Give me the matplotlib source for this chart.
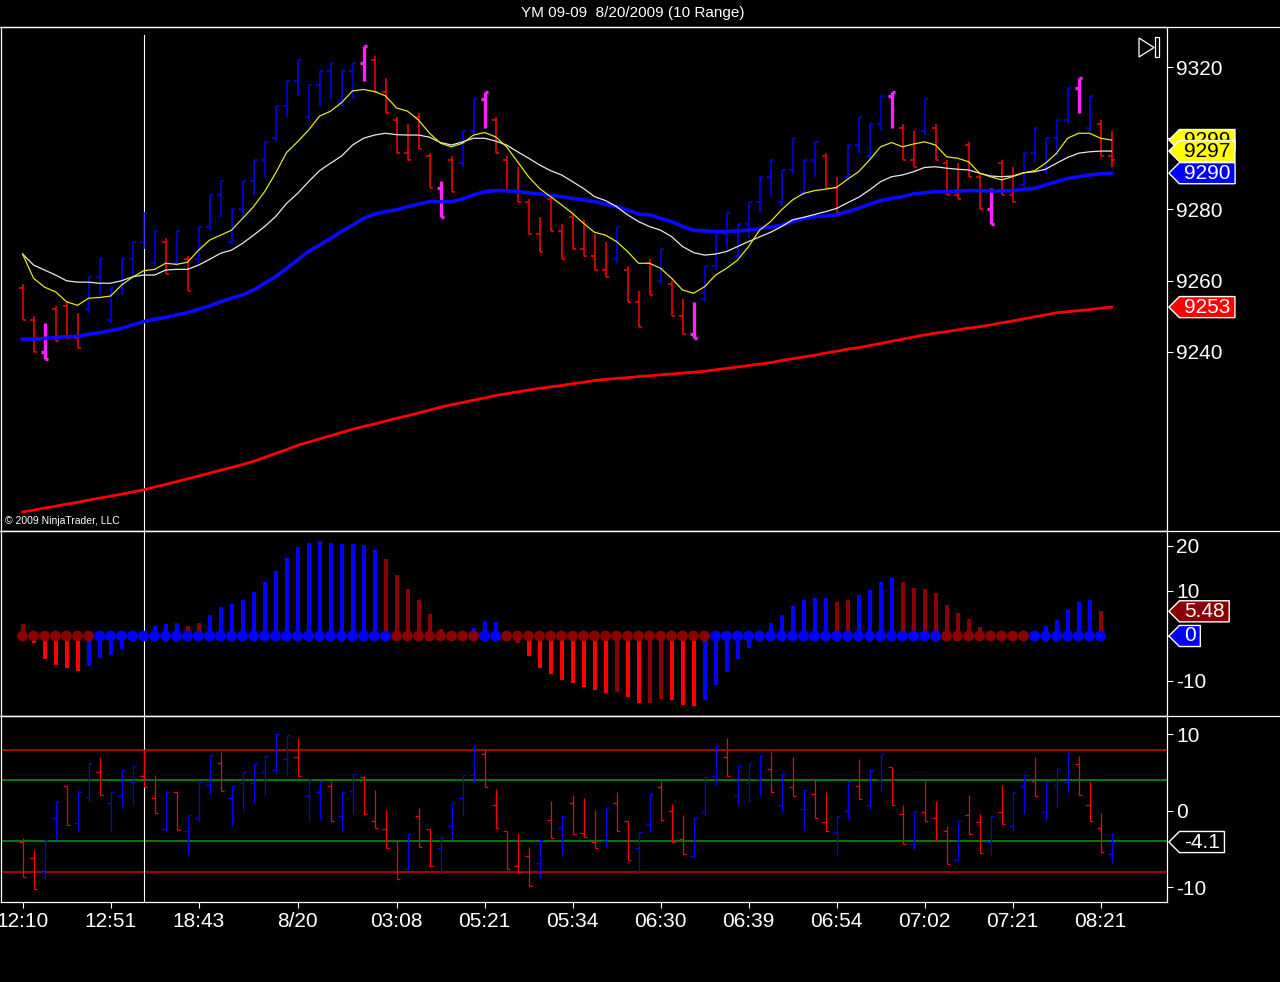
import numpy as np
import matplotlib.pyplot as plt
import matplotlib.transforms as mtransforms
from matplotlib.lines import Line2D
from matplotlib.patches import Polygon, Rectangle
from matplotlib.path import Path

plt.rcParams['font.family'] = ['Liberation Sans', 'DejaVu Sans']
plt.rcParams['axes.unicode_minus'] = False

# ---- price panel: 10 point range bars ----
top_open = [9258, 9249, 9240, 9252, 9253, 9244, 9252, 9261, 9249, 9258,
            9266, 9271, 9265, 9271, 9265, 9266, 9266, 9275, 9284, 9271,
            9280, 9288, 9294, 9300, 9309, 9316, 9306, 9315, 9319, 9310,
            9319, 9321, 9322, 9313, 9305, 9296, 9306, 9295, 9286, 9294,
            9293, 9302, 9311, 9305, 9294, 9285, 9282, 9273, 9283, 9274,
            9278, 9269, 9267, 9263, 9266, 9263, 9254, 9265, 9260, 9259,
            9250, 9245, 9255, 9264, 9273, 9267, 9276, 9282, 9289, 9282,
            9291, 9285, 9294, 9295, 9286, 9289, 9298, 9295, 9304, 9312,
            9303, 9294, 9302, 9303, 9293, 9284, 9298, 9289, 9280, 9293,
            9284, 9287, 9296, 9291, 9300, 9305, 9314, 9303, 9304, 9295]
top_high = [9259, 9250, 9248, 9253, 9254, 9251, 9261, 9266, 9258, 9266,
            9271, 9279, 9274, 9272, 9274, 9267, 9275, 9284, 9288, 9280,
            9288, 9294, 9299, 9309, 9316, 9322, 9315, 9319, 9321, 9319,
            9321, 9326, 9323, 9317, 9306, 9304, 9307, 9296, 9288, 9295,
            9302, 9311, 9313, 9306, 9295, 9292, 9283, 9278, 9284, 9276,
            9279, 9277, 9273, 9271, 9275, 9264, 9257, 9266, 9269, 9260,
            9255, 9254, 9264, 9273, 9279, 9276, 9282, 9289, 9294, 9291,
            9300, 9294, 9299, 9296, 9289, 9298, 9306, 9304, 9312, 9313,
            9304, 9302, 9311, 9304, 9294, 9293, 9299, 9290, 9286, 9294,
            9292, 9296, 9303, 9300, 9305, 9314, 9317, 9312, 9305, 9302]
top_low = [9249, 9240, 9238, 9243, 9244, 9241, 9251, 9256, 9248, 9256,
           9261, 9269, 9264, 9262, 9264, 9257, 9265, 9274, 9278, 9270,
           9278, 9284, 9289, 9299, 9306, 9312, 9305, 9309, 9311, 9309,
           9311, 9316, 9313, 9307, 9296, 9294, 9297, 9286, 9278, 9285,
           9292, 9301, 9303, 9296, 9285, 9282, 9273, 9268, 9274, 9266,
           9269, 9267, 9263, 9261, 9265, 9254, 9247, 9256, 9259, 9250,
           9245, 9244, 9254, 9263, 9269, 9266, 9272, 9279, 9284, 9281,
           9290, 9284, 9289, 9286, 9279, 9288, 9296, 9294, 9302, 9303,
           9294, 9292, 9301, 9294, 9284, 9283, 9289, 9280, 9276, 9284,
           9282, 9286, 9293, 9290, 9295, 9304, 9307, 9302, 9295, 9292]
top_close = [9249, 9240, 9238, 9243, 9244, 9241, 9261, 9266, 9258, 9266,
             9271, 9279, 9274, 9262, 9274, 9257, 9275, 9284, 9288, 9280,
             9288, 9294, 9299, 9309, 9316, 9322, 9315, 9319, 9321, 9319,
             9321, 9326, 9313, 9307, 9296, 9294, 9297, 9286, 9278, 9285,
             9302, 9311, 9313, 9296, 9285, 9282, 9273, 9268, 9274, 9266,
             9269, 9267, 9263, 9261, 9275, 9254, 9247, 9256, 9269, 9250,
             9245, 9244, 9264, 9273, 9279, 9276, 9282, 9289, 9294, 9291,
             9300, 9294, 9299, 9286, 9279, 9298, 9306, 9304, 9312, 9313,
             9294, 9292, 9311, 9294, 9284, 9283, 9289, 9280, 9276, 9284,
             9282, 9296, 9303, 9300, 9305, 9314, 9317, 9312, 9295, 9294]
# bars painted magenta by the signal
signal_bars = [2, 31, 38, 42, 61, 79, 88, 96]

# moving averages on the price panel
ma_yellow = [9267.5, 9260.7, 9258.2, 9256.9, 9254.1, 9253.1, 9255.1, 9255.3, 9255.7, 9258.8,
             9261.0, 9262.8, 9263.2, 9264.9, 9264.6, 9265.2, 9268.6, 9271.4, 9272.8, 9274.2,
             9277.5, 9280.8, 9285.0, 9290.2, 9296.0, 9299.0, 9302.3, 9306.2, 9307.6, 9310.0,
             9313.3, 9313.7, 9313.1, 9311.9, 9308.5, 9307.6, 9305.1, 9301.4, 9298.6, 9297.6,
             9298.6, 9300.9, 9301.6, 9300.4, 9297.6, 9293.4, 9289.2, 9285.9, 9283.6, 9281.3,
             9278.9, 9276.1, 9273.6, 9272.8, 9271.0, 9268.2, 9264.9, 9264.9, 9263.5, 9260.7,
             9257.4, 9256.5, 9258.3, 9261.6, 9263.5, 9265.8, 9269.6, 9274.2, 9276.6, 9279.9,
             9282.7, 9284.5, 9285.3, 9285.7, 9286.2, 9288.5, 9290.6, 9293.9, 9297.6, 9298.8,
             9297.6, 9298.4, 9299.0, 9298.1, 9294.8, 9294.4, 9293.4, 9290.2, 9289.2, 9288.3,
             9289.2, 9290.3, 9290.9, 9293.0, 9295.8, 9300.0, 9301.4, 9301.4, 9300.0, 9299.5]
ma_white = [9267.5, 9264.4, 9263.0, 9261.6, 9260.0, 9259.6, 9259.6, 9259.3, 9259.3, 9260.0,
            9261.1, 9261.6, 9261.6, 9263.0, 9263.2, 9263.2, 9264.4, 9266.0, 9267.7, 9268.6,
            9270.5, 9272.8, 9275.2, 9278.0, 9281.7, 9284.5, 9287.8, 9290.9, 9293.0, 9295.0,
            9298.1, 9300.0, 9300.9, 9301.4, 9301.0, 9300.9, 9300.9, 9300.3, 9298.8, 9298.1,
            9299.0, 9300.0, 9300.0, 9299.2, 9298.1, 9296.2, 9294.4, 9292.5, 9290.9, 9289.7,
            9287.8, 9285.9, 9283.6, 9282.5, 9280.8, 9278.5, 9276.6, 9275.2, 9274.2, 9272.4,
            9269.6, 9267.9, 9267.2, 9267.5, 9268.2, 9269.6, 9271.0, 9272.3, 9273.6, 9275.2,
            9277.1, 9277.8, 9278.6, 9279.4, 9280.3, 9281.9, 9283.4, 9285.5, 9287.8, 9289.2,
            9289.7, 9290.6, 9291.8, 9292.0, 9291.6, 9291.3, 9291.1, 9290.2, 9289.4, 9289.2,
            9289.4, 9290.3, 9290.6, 9291.3, 9293.0, 9294.6, 9295.8, 9296.2, 9296.4, 9296.4]
ma_blue = [9243.6, 9243.6, 9243.8, 9244.1, 9244.3, 9244.3, 9245.0, 9245.4, 9246.0, 9246.6,
           9247.6, 9248.5, 9249.2, 9249.7, 9250.4, 9251.0, 9252.0, 9252.9, 9254.1, 9255.1,
           9256.0, 9257.4, 9259.3, 9261.1, 9263.5, 9265.8, 9268.2, 9270.0, 9271.9, 9273.8,
           9275.6, 9277.5, 9278.7, 9279.4, 9279.9, 9280.8, 9281.5, 9282.2, 9282.2, 9282.2,
           9282.9, 9284.1, 9285.0, 9285.3, 9285.3, 9285.0, 9284.7, 9284.4, 9283.9, 9283.6,
           9283.1, 9282.7, 9282.2, 9281.5, 9280.8, 9279.9, 9278.7, 9278.5, 9277.5, 9276.6,
           9275.2, 9274.2, 9274.0, 9273.8, 9273.8, 9274.0, 9274.2, 9274.7, 9275.1, 9275.6,
           9276.6, 9277.5, 9278.0, 9278.2, 9278.5, 9279.4, 9280.3, 9281.5, 9282.5, 9283.1,
           9283.6, 9284.4, 9284.7, 9285.0, 9285.0, 9285.2, 9285.3, 9285.3, 9285.2, 9285.2,
           9285.3, 9285.7, 9285.9, 9286.9, 9287.8, 9288.7, 9289.2, 9289.7, 9290.0, 9290.2]
ma_red = [9195.1, 9195.6, 9196.2, 9196.7, 9197.3, 9197.8, 9198.4, 9199.0, 9199.5, 9200.1,
          9200.7, 9201.3, 9202.1, 9202.8, 9203.6, 9204.4, 9205.2, 9206.0, 9206.8, 9207.6,
          9208.4, 9209.3, 9210.4, 9211.5, 9212.6, 9213.8, 9214.7, 9215.6, 9216.5, 9217.4,
          9218.3, 9219.1, 9219.8, 9220.6, 9221.4, 9222.1, 9222.9, 9223.7, 9224.5, 9225.2,
          9225.8, 9226.5, 9227.1, 9227.8, 9228.3, 9228.8, 9229.3, 9229.8, 9230.2, 9230.6,
          9231.1, 9231.5, 9232.0, 9232.3, 9232.6, 9232.8, 9233.1, 9233.3, 9233.6, 9233.8,
          9234.1, 9234.3, 9234.6, 9235.0, 9235.4, 9235.8, 9236.2, 9236.6, 9237.0, 9237.6,
          9238.1, 9238.6, 9239.1, 9239.7, 9240.2, 9240.8, 9241.2, 9241.8, 9242.4, 9243.0,
          9243.6, 9244.2, 9244.8, 9245.3, 9245.7, 9246.2, 9246.7, 9247.1, 9247.6, 9248.2,
          9248.7, 9249.3, 9249.9, 9250.4, 9251.0, 9251.3, 9251.6, 9251.9, 9252.3, 9252.6]

# ---- middle panel: histogram with zero-line dots ----
hist_vals = [2.6, -1.6, -5.1, -6.4, -7.2, -7.7, -6.6, -4.8, -4.2, -3.0,
             -0.4, 0.2, 2.2, 2.7, 2.8, 2.2, 2.8, 4.7, 6.4, 7.1,
             8.0, 9.8, 11.9, 14.5, 17.3, 19.7, 20.6, 21.0, 20.7, 20.4,
             20.4, 20.2, 19.0, 17.0, 13.6, 10.4, 8.1, 4.9, 1.5, 0.3,
             0.2, 1.7, 3.4, 3.1, -0.3, -1.5, -4.4, -7.2, -8.5, -9.8,
             -10.5, -11.3, -12.1, -12.6, -12.4, -13.5, -15.0, -14.9, -14.0, -14.2,
             -15.3, -15.6, -14.2, -11.0, -7.9, -5.2, -2.6, -0.3, 2.8, 4.7,
             6.7, 7.9, 8.4, 8.4, 7.6, 7.9, 9.1, 10.2, 11.9, 12.8,
             12.1, 10.6, 10.4, 9.6, 6.9, 5.0, 3.7, 1.9, 0.2, 0.1,
             0.0, 0.0, 0.3, 2.2, 3.6, 5.8, 7.6, 7.9, 5.48]
# b = blue, r = red, d = dark red
hist_colors = ['d', 'r', 'r', 'r', 'r', 'r', 'b', 'b', 'b', 'b',
               'b', 'b', 'b', 'b', 'b', 'd', 'd', 'b', 'b', 'b',
               'b', 'b', 'b', 'b', 'b', 'b', 'b', 'b', 'b', 'b',
               'b', 'b', 'b', 'd', 'd', 'd', 'd', 'd', 'd', 'd',
               'd', 'b', 'b', 'b', 'd', 'd', 'r', 'r', 'r', 'r',
               'r', 'r', 'r', 'r', 'd', 'r', 'r', 'd', 'd', 'r',
               'r', 'r', 'b', 'b', 'b', 'b', 'b', 'b', 'b', 'b',
               'b', 'b', 'b', 'b', 'd', 'd', 'b', 'b', 'b', 'b',
               'd', 'd', 'd', 'd', 'd', 'd', 'd', 'd', 'd', 'd',
               'd', 'd', 'b', 'b', 'b', 'b', 'b', 'b', 'd']
dot_colors = ['d', 'd', 'd', 'd', 'd', 'd', 'd', 'b', 'b', 'b',
              'b', 'b', 'b', 'b', 'b', 'b', 'b', 'b', 'b', 'b',
              'b', 'b', 'b', 'b', 'b', 'b', 'b', 'b', 'b', 'b',
              'b', 'b', 'b', 'b', 'd', 'd', 'd', 'd', 'd', 'd',
              'd', 'd', 'b', 'b', 'd', 'd', 'd', 'd', 'd', 'd',
              'd', 'd', 'd', 'd', 'd', 'd', 'd', 'd', 'd', 'd',
              'd', 'd', 'd', 'b', 'b', 'b', 'b', 'b', 'b', 'b',
              'b', 'b', 'b', 'b', 'b', 'b', 'b', 'b', 'b', 'b',
              'b', 'b', 'b', 'b', 'd', 'd', 'd', 'd', 'd', 'd',
              'd', 'd', 'b', 'b', 'b', 'b', 'b', 'b', 'b']

# ---- bottom panel: oscillator drawn as bars ----
osc_open = [-4.1, -6.2, -8.0, -1.0, 3.2, -1.6, 1.8, 5.1, 1.0, 1.9,
            3.8, 4.5, 1.7, -2.4, 2.5, -2.6, -0.9, 3.5, 6.2, 1.7,
            3.7, 3.7, 5.1, 5.4, 6.8, 7.0, 1.9, 2.4, 3.3, -0.7,
            2.6, 4.4, -1.3, -2.4, -3.9, -7.7, -0.7, -2.4, -4.9, -2.0,
            1.7, 4.7, 7.5, 0.7, -2.6, -7.2, -5.9, -6.8, -1.2, -2.3,
            1.0, -2.9, -4.1, -3.9, 1.0, -1.4, -4.9, -1.7, 3.1, 0.0,
            -3.7, -5.9, -0.2, 4.5, 7.0, 2.0, 3.6, 4.1, 5.5, 0.7,
            3.1, 0.2, 2.2, -1.5, -2.8, 0.0, 3.3, 0.7, 4.2, 5.7,
            -0.4, -4.4, -0.1, -1.0, -2.6, -6.5, -0.6, -1.5, -4.1, -0.1,
            -2.0, 3.3, 3.9, -0.1, 3.4, 3.8, 6.1, 0.7, -2.3, -5.7]
osc_high = [-3.6, -5.1, -3.8, 1.2, 3.2, 2.5, 6.3, 7.0, 2.5, 5.4,
            5.9, 8.1, 4.7, 2.4, 2.5, -0.5, 3.8, 7.3, 7.7, 3.2,
            5.1, 6.1, 7.2, 10.0, 9.9, 9.6, 4.1, 3.9, 3.8, 2.5,
            4.8, 4.6, 2.7, 0.1, -3.9, -3.1, 0.4, -2.4, -3.4, 1.0,
            4.7, 8.6, 8.1, 2.9, -2.6, -3.1, -4.8, -3.8, 1.3, -0.7,
            2.0, 1.7, 0.1, 0.4, 2.5, -1.4, -2.8, 2.2, 3.9, 0.9,
            -0.6, -0.9, 4.4, 8.5, 9.6, 5.9, 6.2, 7.2, 7.7, 4.8,
            7.0, 2.7, 4.2, 2.5, -0.7, 3.9, 6.8, 5.4, 7.5, 5.7,
            0.7, 0.0, 3.8, 1.3, -2.0, -1.3, 2.0, -0.4, -0.7, 3.4,
            2.4, 4.7, 7.0, 3.9, 5.5, 7.6, 7.2, 3.8, -0.3, -2.9]
osc_low = [-8.7, -10.2, -8.9, -3.8, -1.9, -2.7, 1.2, 2.0, -2.7, 0.4,
           0.7, 3.1, -0.3, -2.6, -2.5, -5.8, -1.3, 2.2, 2.6, -2.0,
           0.0, 1.0, 2.0, 5.0, 4.7, 4.5, -1.2, -1.2, -1.4, -2.6,
           -0.4, -0.4, -2.3, -4.9, -8.9, -7.8, -4.7, -7.3, -8.3, -3.8,
           -0.6, 3.6, 3.1, -2.2, -7.6, -8.1, -9.8, -8.8, -3.6, -5.8,
           -3.1, -3.4, -4.9, -4.7, -2.6, -6.4, -8.0, -2.8, -1.2, -4.1,
           -5.7, -6.0, -0.7, 3.4, 4.5, 0.9, 1.1, 2.0, 2.4, -0.2,
           1.9, -2.5, -0.9, -2.6, -5.9, -1.2, 1.6, 0.2, 2.5, 0.7,
           -4.4, -5.0, -1.3, -3.9, -7.0, -6.5, -3.1, -5.5, -5.8, -1.7,
           -2.6, -0.4, 1.9, -1.2, 0.3, 2.5, 2.0, -1.3, -5.4, -6.8]
osc_close = [-8.7, -10.2, -3.8, 1.2, -1.9, 2.5, 6.3, 2.0, 2.5, 5.4,
             5.9, 3.1, -0.3, 2.4, -2.5, -0.5, 3.8, 7.3, 2.6, 3.2,
             5.1, 6.1, 7.2, 10.0, 9.9, 4.5, 4.1, 3.9, -1.4, 2.5,
             4.8, -0.4, -2.3, -4.9, -8.9, -3.1, -4.7, -7.3, -3.4, 1.0,
             4.7, 8.6, 3.1, -2.2, -7.6, -8.0, -9.8, -3.8, -3.6, -0.7,
             -3.1, -3.4, -4.9, 0.4, -2.6, -6.4, -2.8, 2.2, -1.2, -4.1,
             -5.7, -0.9, 4.4, 8.5, 4.5, 5.9, 6.2, 7.2, 2.4, 4.8,
             1.9, 2.7, -0.9, -2.6, -0.7, 3.9, 1.6, 5.4, 7.5, 0.7,
             -4.4, 0.0, -1.3, -3.9, -7.0, -1.3, -3.1, -5.5, -0.7, -1.7,
             2.4, 4.7, 1.9, 3.9, 5.5, 7.6, 2.0, -1.3, -5.4, -4.1]
osc_outer_levels = [8, -8]
osc_inner_levels = [4, -4]

# time axis
tick_bars = [0, 8, 16, 25, 34, 42, 50, 58, 66, 74, 82, 90, 98]
tick_labels = ['12:10', '12:51', '18:43', '8/20', '03:08', '05:21', '05:34',
               '06:30', '06:39', '06:54', '07:02', '07:21', '08:21']
cursor_bar = 11

# last-value tags on the right axis
price_tag_values = [9299.5, 9296.4, 9290.2, 9252.6]
price_tag_labels = ['9299', '9297', '9290', '9253']
hist_tag_values = [5.48, 0.0]
hist_tag_labels = ['5.48', '0']
osc_tag_values = [-4.1]
osc_tag_labels = ['-4.1']

title = 'YM 09-09  8/20/2009 (10 Range)'

W, H = 1280, 982
BLUE = '#0000ff'
RED = '#ff0000'
DARKRED = '#8b0000'
MAGENTA = '#ff20ff'
code_color = {'b': BLUE, 'r': RED, 'd': DARKRED}

fig = plt.figure(figsize=(W / 100, H / 100), dpi=100, facecolor='black')
# transform in screen pixels measured from the top-left corner
px = mtransforms.Affine2D().scale(1 / W, -1 / H).translate(0, 1) + fig.transFigure


def add_panel(top, bottom, ylim):
    ax = fig.add_axes([1 / W, 1 - bottom / H, 1166 / W, (bottom - top) / H])
    ax.set_facecolor('black')
    ax.set_xlim(-1.96, 104.04)
    ax.set_ylim(*ylim)
    for spine in ax.spines.values():
        spine.set_color('white')
        spine.set_linewidth(0.9)
    ax.yaxis.tick_right()
    ax.tick_params(axis='y', colors='white', labelsize=15, length=4,
                   width=0.8, pad=2.5)
    ax.tick_params(axis='x', bottom=False, labelbottom=False)
    return ax


def draw_bars(ax, opens, highs, lows, closes, colors, widths, tick=0.3):
    x = np.arange(len(highs))
    ax.vlines(x, lows, highs, colors=colors, linewidths=widths, zorder=2)
    ax.hlines(opens, x - tick, x, colors=colors, linewidths=widths, zorder=2)
    ax.hlines(closes, x, x + tick, colors=colors, linewidths=widths, zorder=2)


def tag_shape(x0, y0, width, height, mutation_size):
    # box with an arrow point on the left, like the ninjatrader price markers
    padx = 0.22 * mutation_size
    pady = 0.05 * mutation_size
    left, right = x0 - padx, x0 + width + padx
    bottom, top = y0 - pady, y0 + height + pady
    tip = (top - bottom) / 2
    verts = [(left - tip, bottom + tip), (left, top), (right, top),
             (right, bottom), (left, bottom), (left - tip, bottom + tip)]
    return Path(verts, closed=True)


def value_tag(ax, value, label, face, text_color, z):
    trans = mtransforms.blended_transform_factory(fig.transFigure, ax.transData)
    ax.text(1184 / W, value, label, transform=trans, ha='left', va='center',
            fontsize=15, color=text_color, clip_on=False, zorder=z,
            bbox=dict(boxstyle=tag_shape, facecolor=face, edgecolor='white',
                      linewidth=1))


ax_price = add_panel(27, 531, (9189.75, 9331.23))
ax_hist = add_panel(531, 716, (-17.78, 23.33))
ax_osc = add_panel(716, 902, (-11.96, 12.42))

# price bars + moving averages
bar_colors = []
bar_widths = []
for i in range(len(top_high)):
    if i in signal_bars:
        bar_colors.append(MAGENTA)
        bar_widths.append(2.4)
    elif top_close[i] > top_open[i]:
        bar_colors.append(BLUE)
        bar_widths.append(1.1)
    else:
        bar_colors.append(RED)
        bar_widths.append(1.1)
draw_bars(ax_price, top_open, top_high, top_low, top_close, bar_colors, bar_widths)

xs = np.arange(len(ma_red))
ax_price.plot(xs, ma_red, color='#ff0000', lw=2.0, zorder=3)
ax_price.plot(xs, ma_blue, color='#0a0aff', lw=2.6, zorder=3)
ax_price.plot(xs, ma_white, color='#e8e8e8', lw=0.9, zorder=4)
ax_price.plot(xs, ma_yellow, color='#e6e61e', lw=0.9, zorder=4)
ax_price.set_yticks([9240, 9260, 9280, 9300, 9320])

# histogram panel
hx = np.arange(len(hist_vals))
ax_hist.vlines(hx, 0, hist_vals, colors=[code_color[c] for c in hist_colors],
               linewidth=2.9, zorder=2)
ax_hist.scatter(hx, np.zeros(len(hx)), s=60, c=[code_color[c] for c in dot_colors],
                linewidths=0, zorder=3)
ax_hist.set_yticks([-10, 0, 10, 20])

# oscillator panel
for lvl in osc_outer_levels:
    ax_osc.axhline(lvl, color='#dd0000', lw=1.1, zorder=1)
for lvl in osc_inner_levels:
    ax_osc.axhline(lvl, color='#00a000', lw=1.1, zorder=1)
osc_colors = [BLUE if c > o else RED for o, c in zip(osc_open, osc_close)]
draw_bars(ax_osc, osc_open, osc_high, osc_low, osc_close, osc_colors, 0.9)
ax_osc.set_yticks([-10, 0, 10])
ax_osc.set_xticks(tick_bars)
ax_osc.set_xticklabels(tick_labels)
ax_osc.tick_params(axis='x', bottom=True, labelbottom=True, colors='white',
                   labelsize=15, length=4, width=0.8, pad=3)

# cursor line through all three panels
ax_price.axvline(cursor_bar, ymax=1 - 8 / 504, color='white', lw=0.8, zorder=1)
ax_hist.axvline(cursor_bar, color='white', lw=0.8, zorder=1)
ax_osc.axvline(cursor_bar, color='white', lw=0.8, zorder=1)

# right-axis value tags
tag_styles = [('#ffff00', 'black'), ('#ffff00', 'black'), (BLUE, 'white'), (RED, 'white')]
for k, (v, s) in enumerate(zip(price_tag_values, price_tag_labels)):
    value_tag(ax_price, v, s, tag_styles[k][0], tag_styles[k][1], 10 + k)
hist_styles = [(DARKRED, 'white'), (BLUE, 'white')]
for k, (v, s) in enumerate(zip(hist_tag_values, hist_tag_labels)):
    value_tag(ax_hist, v, s, hist_styles[k][0], hist_styles[k][1], 10 + k)
for v, s in zip(osc_tag_values, osc_tag_labels):
    value_tag(ax_osc, v, s, 'black', 'white', 10)

# frame lines that run past the price axis
for y in [27, 531, 716]:
    fig.add_artist(Line2D([0, W], [y, y], transform=px, color='white', lw=0.9))

# title, copyright and the little scroll icon
fig.text(633 / W, 1 - 13 / H, title, ha='center', va='center', color='white', fontsize=11)
fig.text(5 / W, 1 - 521 / H, '\u00a9 2009 NinjaTrader, LLC', ha='left', va='center',
         color='white', fontsize=7.5)
fig.add_artist(Polygon([(1139, 38), (1139, 57), (1154, 47.5)], closed=True, fill=False,
                       edgecolor='white', lw=0.9, transform=px))
fig.add_artist(Rectangle((1155, 37), 3.5, 20, fill=False, edgecolor='white', lw=0.9,
                         transform=px))

fig.savefig('out.png', dpi=100, facecolor='black')
